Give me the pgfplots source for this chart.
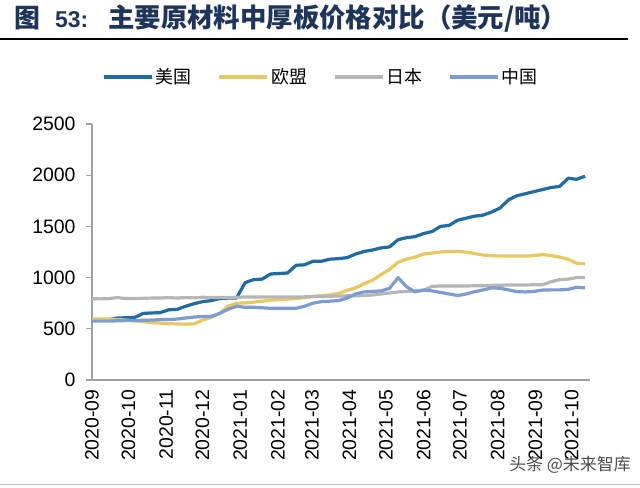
\documentclass[border=0pt]{standalone}
\usepackage{pgfplots}
\usepackage{pgfplotstable}
\pgfplotsset{compat=1.18}
\usepackage{fontspec}
\setmainfont{Liberation Sans}
\newfontfamily\cjk{Noto Sans CJK SC}
\definecolor{usc}{RGB}{31,107,168}
\definecolor{euc}{RGB}{233,201,95}
\definecolor{jpc}{RGB}{182,182,182}
\definecolor{cnc}{RGB}{124,156,210}
\definecolor{titlec}{RGB}{31,52,90}
\definecolor{axc}{RGB}{160,160,160}

\pgfplotstableread{
d us eu jp cn
0 580 595 795 575
7 585 595 792 575
14 590 595 795 575
21 605 590 805 578
28 608 585 795 580
35 610 578 795 580
42 650 570 798 583
49 655 560 800 585
56 657 555 800 590
63 685 550 805 590
70 690 547 800 595
77 720 545 805 605
84 745 548 802 615
91 765 585 808 620
98 775 610 805 620
105 795 650 805 650
112 800 720 805 690
119 800 750 808 720
126 950 752 810 710
133 980 760 810 710
140 985 770 810 705
147 1035 780 810 700
154 1040 785 810 700
161 1045 790 810 700
168 1120 795 810 700
175 1125 805 812 720
182 1160 815 815 750
189 1160 825 815 765
196 1180 830 818 770
203 1185 845 820 775
210 1195 875 822 800
217 1230 900 822 840
224 1255 940 825 860
231 1270 975 830 865
238 1290 1030 840 870
245 1300 1080 850 895
252 1370 1150 860 1000
259 1390 1180 865 910
266 1400 1200 870 860
273 1430 1230 875 880
280 1450 1240 915 870
287 1500 1250 918 855
294 1510 1255 918 840
301 1560 1255 918 825
308 1580 1250 918 840
315 1600 1235 920 862
322 1610 1220 920 879
329 1640 1215 925 900
336 1680 1210 925 895
343 1760 1210 928 880
350 1800 1210 928 862
357 1820 1210 928 860
364 1840 1215 930 865
371 1860 1225 930 878
378 1880 1215 960 880
385 1890 1200 980 880
392 1970 1180 985 885
399 1960 1140 1000 905
406 1990 1135 1000 900
}\datatable

\begin{document}
\begin{tikzpicture}[x=1bp,y=1bp]
\path[use as bounding box] (0,0) rectangle (640,488);
% title
\node[anchor=west, text=titlec, inner sep=0pt] at (14,469)
  {\bfseries{\cjk\fontsize{26}{28}\selectfont 图}\hspace{15bp}{\fontsize{23}{28}\selectfont 53:}\hspace{20bp}{\cjk\fontsize{26.5}{28}\selectfont 主要原材料中厚板价格对比（美元/吨）}};
\draw[line width=1.3bp, black] (0,449) -- (628,449);
\draw[line width=1bp, axc!70] (0,3) -- (640,3);
\begin{axis}[
  at={(92bp,108bp)}, anchor=origin,
  scale only axis, width=498bp, height=256bp,
  xmin=0, xmax=410, ymin=0, ymax=2500,
  axis x line=bottom, axis y line=left,
  axis line style={draw=axc, line width=1.2bp, -},
  xtick={0,30,61,91,122,153,181,212,242,273,303,334,365,395},
  xticklabels={2020-09,2020-10,2020-11,2020-12,2021-01,2021-02,2021-03,2021-04,2021-05,2021-06,2021-07,2021-08,2021-09,2021-10},
  ytick={0,500,1000,1500,2000,2500},
  x tick style={draw=none},
  y tick style={draw=axc, line width=1.2bp},
  tick align=outside, major tick length=6bp,
  /pgf/number format/assume math mode=true,
  /pgf/number format/1000 sep={},
  ticklabel style={font=\fontsize{19.5}{22}\selectfont, text=black},
  xticklabel style={rotate=90, anchor=east, xshift=0bp},
  yticklabel style={xshift=-7bp},
  legend columns=4,
  legend style={at={(0.46,1.184)}, anchor=center, draw=none, fill=none,
    font=\cjk\fontsize{18}{20}\selectfont,
    /tikz/every even column/.append style={column sep=24bp}},
  legend image code/.code={\draw[#1, line width=3.5bp] (0bp,0bp) -- (48bp,0bp);},
  every axis plot/.append style={line width=3.2bp, line join=round},
  clip=false,
]
\addplot[usc, no markers] table[x=d, y=us] {\datatable};
\addlegendentry{美国}
\addplot[euc, no markers] table[x=d, y=eu] {\datatable};
\addlegendentry{欧盟}
\addplot[jpc, no markers] table[x=d, y=jp] {\datatable};
\addlegendentry{日本}
\addplot[cnc, no markers] table[x=d, y=cn] {\datatable};
\addlegendentry{中国}
\end{axis}
\node[text=black!70, inner sep=0pt] at (570,23) {\cjk\fontsize{17}{20}\selectfont 头条 @未来智库};
\end{tikzpicture}
\end{document}
